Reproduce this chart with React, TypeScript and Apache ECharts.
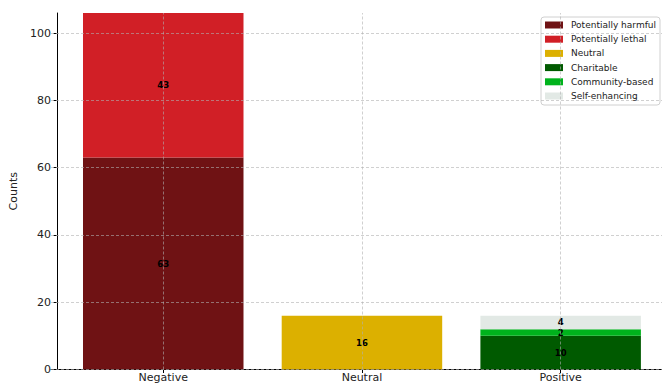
import React, { useEffect, useRef } from "react";
import * as echarts from "echarts";

const categories = ["Negative", "Neutral", "Positive"];
const potentiallyHarmful = [63, null, null];
const potentiallyLethal = [43, null, null];
const neutral = [null, 16, null];
const charitable = [null, null, 10];
const communityBased = [null, null, 2];
const selfEnhancing = [null, null, 4];

const seriesDefs = [
  { name: "Potentially harmful", values: potentiallyHarmful, color: "#6f1214" },
  { name: "Potentially lethal", values: potentiallyLethal, color: "#d11f26" },
  { name: "Neutral", values: neutral, color: "#dcb000" },
  { name: "Charitable", values: charitable, color: "#005a00" },
  { name: "Community-based", values: communityBased, color: "#00b31c" },
  { name: "Self-enhancing", values: selfEnhancing, color: "#e2e9e5" },
];

const FONT = "DejaVu Sans";
const Y_MAX = 106;
const Y_GRID_MAX = 100;

export default function App() {
  const ref = useRef<HTMLDivElement>(null);
  useEffect(() => {
    if (!ref.current) return;
    const chart = echarts.init(ref.current, null, { renderer: "svg" });
    const gridLineStyle = { color: "rgba(176,176,176,0.75)", type: [3, 2], width: 0.8 };
    const series: any[] = seriesDefs.map((s, i) => ({
      name: s.name,
      type: "bar",
      stack: "total",
      xAxisIndex: 0,
      yAxisIndex: 0,
      barWidth: 160.5,
      itemStyle: { color: s.color },
      data: s.values.map((v) => (v == null ? "-" : v)),
      label: {
        show: true,
        position: "inside",
        fontFamily: FONT,
        fontSize: 8.5,
        fontWeight: "bold",
        color: "#000",
      },
      ...(i === 0
        ? {
            markLine: {
              silent: true,
              symbol: ["none", "none"],
              label: { show: false },
              lineStyle: gridLineStyle,
              z: 5,
              data: categories.map((c) => ({ xAxis: c })),
            },
          }
        : {}),
    }));
    chart.setOption({
      animation: false,
      textStyle: { fontFamily: FONT },
      grid: [
        { left: 58, right: 2, top: 13, bottom: 16.5, containLabel: false },
        { left: 51, right: 0, top: 33.2, bottom: 16.5, containLabel: false },
      ],
      legend: {
        orient: "vertical",
        left: 541,
        top: 17,
        data: seriesDefs.map((s) => s.name),
        itemWidth: 18,
        itemHeight: 7,
        itemGap: 2.2,
        icon: "rect",
        padding: [2, 4, 3, 4],
        backgroundColor: "#fff",
        borderColor: "#d0d0d0",
        borderWidth: 1,
        borderRadius: 3,
        textStyle: { fontFamily: FONT, fontSize: 9, color: "#222", lineHeight: 12, padding: [0, 0, 0, 3] },
      },
      xAxis: [
        {
          type: "category",
          gridIndex: 0,
          data: categories,
          axisLine: { show: false },
          axisTick: { show: true, alignWithLabel: true, length: 3.5, lineStyle: { color: "#000" } },
          axisLabel: { fontFamily: FONT, fontSize: 11, color: "#222", margin: 2 },
          splitLine: { show: false },
        },
        {
          type: "value",
          gridIndex: 1,
          min: 0,
          max: 1,
          axisLine: { show: true, onZero: false, lineStyle: { color: "#000", width: 1 } },
          axisTick: { show: false },
          axisLabel: { show: false },
          splitLine: { show: false },
        },
      ],
      yAxis: [
        {
          type: "value",
          gridIndex: 0,
          min: 0,
          max: Y_MAX,
          interval: 20,
          offset: 7,
          name: "Counts",
          nameLocation: "middle",
          nameGap: 33,
          nameTextStyle: { fontFamily: FONT, fontSize: 11, color: "#222" },
          axisLine: { show: true, onZero: false, lineStyle: { color: "#000", width: 1 } },
          axisTick: { show: true, length: 3.5, lineStyle: { color: "#000" } },
          axisLabel: {
            fontFamily: FONT,
            fontSize: 11,
            color: "#222",
            margin: 6,
            showMaxLabel: false,
            formatter: (v: number) => (v % 20 === 0 ? String(v) : ""),
          },
          splitLine: { show: false },
        },
        {
          type: "value",
          gridIndex: 1,
          min: 0,
          max: Y_GRID_MAX,
          interval: 20,
          z: 4,
          axisLine: { show: false },
          axisTick: { show: false },
          axisLabel: { show: false },
          splitLine: { show: true, lineStyle: gridLineStyle },
        },
      ],
      series,
    });
    return () => chart.dispose();
  }, []);
  return (
    <div
      ref={ref}
      style={{ position: "absolute", left: 0, top: 0, width: 662, height: 386 }}
    />
  );
}
